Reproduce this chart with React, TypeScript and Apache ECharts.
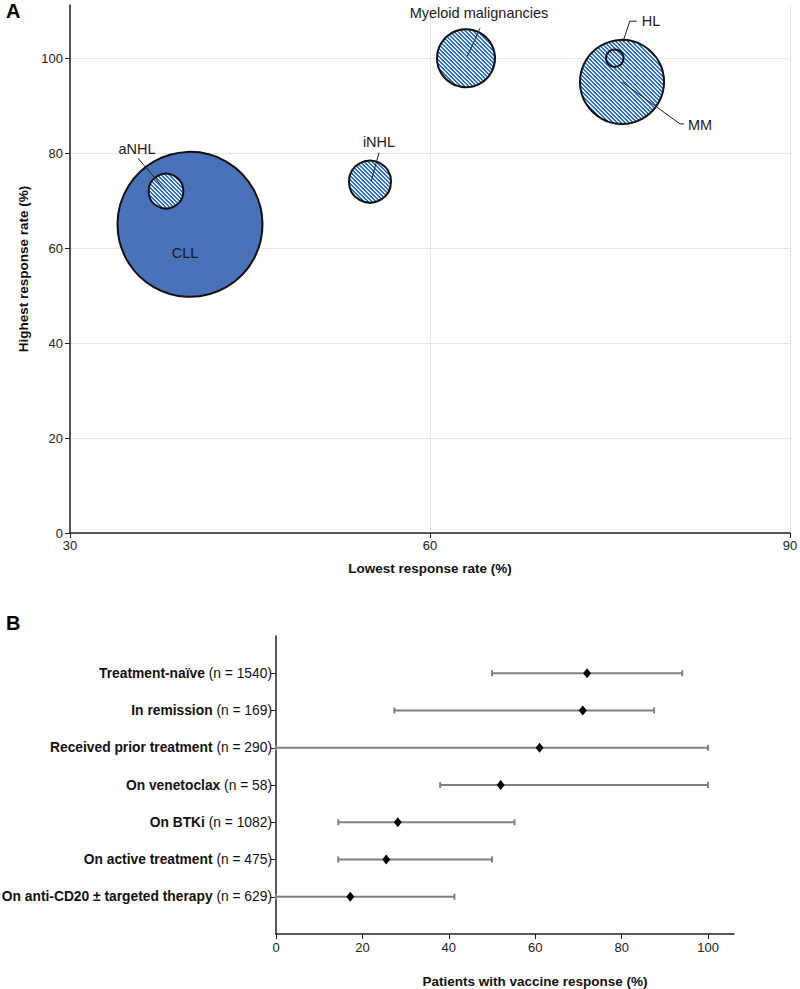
import React, { useEffect, useRef } from 'react';
import * as echarts from 'echarts';

// ---------- Panel A data ----------
const bubbleNames = ['CLL', 'aNHL', 'iNHL', 'Myeloid malignancies', 'MM', 'HL'];
const lowestRate = [40, 38, 55, 63, 76, 75.4];
const highestRate = [65, 72, 74, 100, 95, 100];
const bubbleWeight = [100, 24, 29, 40, 58, 12];
const bubbleHatched = [false, true, true, true, true, true];
const xTicksA = [30, 60, 90];
const yTicksA = [0, 20, 40, 60, 80, 100];

// ---------- Panel B data ----------
const groupNames = [
  'Treatment-naïve',
  'In remission',
  'Received prior treatment',
  'On venetoclax',
  'On BTKi',
  'On active treatment',
  'On anti-CD20 ± targeted therapy',
];
const groupN = [1540, 169, 290, 58, 1082, 475, 629];
const responseLow = [50, 27.4, 0, 38, 14.4, 14.4, 0];
const responseMean = [72, 71, 61, 52, 28.2, 25.5, 17.2];
const responseHigh = [94, 87.5, 100, 100, 55.2, 50, 41.3];
const xTicksB = [0, 20, 40, 60, 80, 100];

// ---------- layout / style (not data) ----------
const FONT = '"Liberation Sans", Arial, sans-serif';
const LABEL_LAYOUT: { text: [number, number]; align: string; line: [number, number][] }[] = [
  { text: [-5, 29], align: 'center', line: [] },
  { text: [-29, -42], align: 'center', line: [[-28, -33], [-1, -1]] },
  { text: [9, -40], align: 'center', line: [[9, -29], [1, 0]] },
  { text: [13, -45], align: 'center', line: [[14, -30], [1, -1]] },
  { text: [66, 43], align: 'left', line: [[0, 0], [58, 42], [62, 42]] },
  { text: [27, -37], align: 'left', line: [[8, -16], [15, -37], [22, -37]] },
];
const SIZE_SCALE = 1.45;

function makeHatch(): HTMLCanvasElement {
  const n = 4;
  const cols = [
    [255, 255, 255],
    [200, 220, 244],
    [44, 114, 204],
    [44, 114, 204],
  ];
  const cv = document.createElement('canvas');
  cv.width = n;
  cv.height = n;
  const ctx = cv.getContext('2d')!;
  const img = ctx.createImageData(n, n);
  for (let y = 0; y < n; y++) {
    for (let x = 0; x < n; x++) {
      const k = (((x - y) % n) + n) % n;
      const o = (y * n + x) * 4;
      img.data[o] = cols[k][0];
      img.data[o + 1] = cols[k][1];
      img.data[o + 2] = cols[k][2];
      img.data[o + 3] = 255;
    }
  }
  ctx.putImageData(img, 0, 0);
  return cv;
}

export default function App() {
  const ref = useRef<HTMLDivElement>(null);

  useEffect(() => {
    if (!ref.current) return;
    const chart = echarts.init(ref.current, null, { renderer: 'svg' });
    const hatch = makeHatch();

    const option: any = {
      animation: false,
      backgroundColor: '#fff',
      textStyle: { fontFamily: FONT },
      graphic: [
        { type: 'text', left: 6, top: 1, style: { text: 'A', font: `bold 20px ${FONT}`, fill: '#000' } },
        { type: 'text', left: 6, top: 613, style: { text: 'B', font: `bold 20px ${FONT}`, fill: '#000' } },
      ],
      grid: [
        { left: 70, right: 10, top: 5, bottom: 456, containLabel: false, outerBoundsMode: 'none' },
        { left: 276, right: 66, top: 636, bottom: 55, containLabel: false, outerBoundsMode: 'none' },
      ],
      xAxis: [
        {
          gridIndex: 0,
          type: 'value',
          min: xTicksA[0],
          max: xTicksA[xTicksA.length - 1],
          interval: xTicksA[1] - xTicksA[0],
          name: 'Lowest response rate (%)',
          nameLocation: 'middle',
          nameGap: 28,
          nameTextStyle: { fontSize: 13.5, fontWeight: 'bold', color: '#111', fontFamily: FONT },
          axisLine: { show: true, lineStyle: { color: '#222', width: 1.5 } },
          axisTick: { show: true, length: 5, lineStyle: { color: '#222' } },
          axisLabel: { fontSize: 13, color: '#222', margin: 6, fontFamily: FONT },
          splitLine: { show: true, lineStyle: { color: '#e6e6e6', width: 1 } },
        },
        {
          gridIndex: 1,
          type: 'value',
          min: 0,
          max: 106,
          interval: 20,
          name: 'Patients with vaccine response (%)',
          nameLocation: 'middle',
          nameGap: 40,
          nameTextStyle: { fontSize: 13.5, fontWeight: 'bold', color: '#111', fontFamily: FONT, padding: [0, 0, 0, 60] },
          axisLine: { show: true, lineStyle: { color: '#222', width: 1.5 } },
          axisTick: { show: true, length: 5, lineStyle: { color: '#222' }, customValues: xTicksB },
          axisLabel: { fontSize: 13, color: '#222', margin: 7, fontFamily: FONT, customValues: xTicksB },
          splitLine: { show: false },
        },
      ],
      yAxis: [
        {
          gridIndex: 0,
          type: 'value',
          min: 0,
          max: 111.2,
          interval: 20,
          name: 'Highest response rate (%)',
          nameLocation: 'middle',
          nameGap: 36,
          nameRotate: 90,
          nameTextStyle: { fontSize: 13.5, fontWeight: 'bold', color: '#111', fontFamily: FONT },
          axisLine: { show: true, lineStyle: { color: '#222', width: 1.5 } },
          axisTick: { show: true, length: 5, lineStyle: { color: '#222' }, customValues: yTicksA },
          axisLabel: { fontSize: 13, color: '#222', margin: 7, fontFamily: FONT, customValues: yTicksA },
          splitLine: { show: true, lineStyle: { color: '#e6e6e6', width: 1 } },
        },
        {
          gridIndex: 1,
          type: 'category',
          data: ['', ...groupNames, ''],
          inverse: true,
          boundaryGap: false,
          axisLine: { show: true, lineStyle: { color: '#222', width: 1.5 } },
          axisTick: {
            show: true,
            length: 5,
            lineStyle: { color: '#222' },
            interval: (idx: number) => idx > 0 && idx <= groupNames.length,
          },
          axisLabel: {
            interval: 0,
            margin: 4,
            formatter: (v: string, idx: number) =>
              idx === 0 || idx > groupNames.length ? '' : `{b|${v}}{n| (n = ${groupN[idx - 1]})}`,
            rich: {
              b: { fontSize: 13.8, fontWeight: 'bold', color: '#111', fontFamily: FONT },
              n: { fontSize: 13.8, color: '#111', fontFamily: FONT },
            },
          },
          splitLine: { show: false },
        },
      ],
      series: [
        {
          type: 'custom',
          name: 'bubbles',
          xAxisIndex: 0,
          yAxisIndex: 0,
          clip: false,
          z: 2,
          data: bubbleNames.map((n, i) => [lowestRate[i], highestRate[i], bubbleWeight[i], i]),
          encode: { x: 0, y: 1 },
          renderItem: (params: any, api: any) => {
            const i = api.value(3);
            const c = api.coord([api.value(0), api.value(1)]);
            const r = (api.value(2) * SIZE_SCALE) / 2;
            return {
              type: 'circle',
              shape: { cx: c[0], cy: c[1], r },
              style: {
                fill: bubbleHatched[i] ? { image: hatch, repeat: 'repeat' } : '#4a72b9',
                stroke: '#111',
                lineWidth: 2,
              },
            };
          },
        },
        {
          type: 'custom',
          xAxisIndex: 0,
          yAxisIndex: 0,
          clip: false,
          z: 5,
          data: bubbleNames.map((n, i) => [lowestRate[i], highestRate[i], i]),
          encode: { x: 0, y: 1 },
          renderItem: (params: any, api: any) => {
            const i = api.value(2);
            const c = api.coord([api.value(0), api.value(1)]);
            const L = LABEL_LAYOUT[i];
            const children: any[] = [];
            if (L.line.length) {
              children.push({
                type: 'polyline',
                shape: { points: L.line.map((p) => [c[0] + p[0], c[1] + p[1]]) },
                style: { stroke: '#222', lineWidth: 1, fill: null },
              });
            }
            children.push({
              type: 'text',
              x: c[0] + L.text[0],
              y: c[1] + L.text[1],
              style: {
                text: bubbleNames[i],
                fill: '#1a1a1a',
                font: `14.5px ${FONT}`,
                align: L.align,
                verticalAlign: 'middle',
              },
            });
            return { type: 'group', children };
          },
        },
        {
          type: 'custom',
          xAxisIndex: 1,
          yAxisIndex: 1,
          clip: false,
          z: 3,
          data: groupNames.map((g, i) => [responseLow[i], responseHigh[i], i + 1]),
          encode: { x: [0, 1], y: 2 },
          renderItem: (params: any, api: any) => {
            const a = api.coord([api.value(0), api.value(2)]);
            const b = api.coord([api.value(1), api.value(2)]);
            const st = { stroke: '#808080', lineWidth: 2 };
            const h = 3;
            return {
              type: 'group',
              children: [
                { type: 'line', shape: { x1: a[0], y1: a[1], x2: b[0], y2: b[1] }, style: st },
                { type: 'line', shape: { x1: a[0], y1: a[1] - h, x2: a[0], y2: a[1] + h }, style: st },
                { type: 'line', shape: { x1: b[0], y1: b[1] - h, x2: b[0], y2: b[1] + h }, style: st },
              ],
            };
          },
        },
        {
          type: 'scatter',
          xAxisIndex: 1,
          yAxisIndex: 1,
          z: 4,
          data: responseMean.map((m, i) => [m, i + 1]),
          symbol: 'diamond',
          symbolSize: [8, 10],
          itemStyle: { color: '#000', opacity: 1 },
        },
      ],
    };

    chart.setOption(option);
    return () => chart.dispose();
  }, []);

  return (
    <div
      ref={ref}
      style={{ position: 'absolute', left: 0, top: 0, width: 800, height: 989, background: '#fff' }}
    />
  );
}
